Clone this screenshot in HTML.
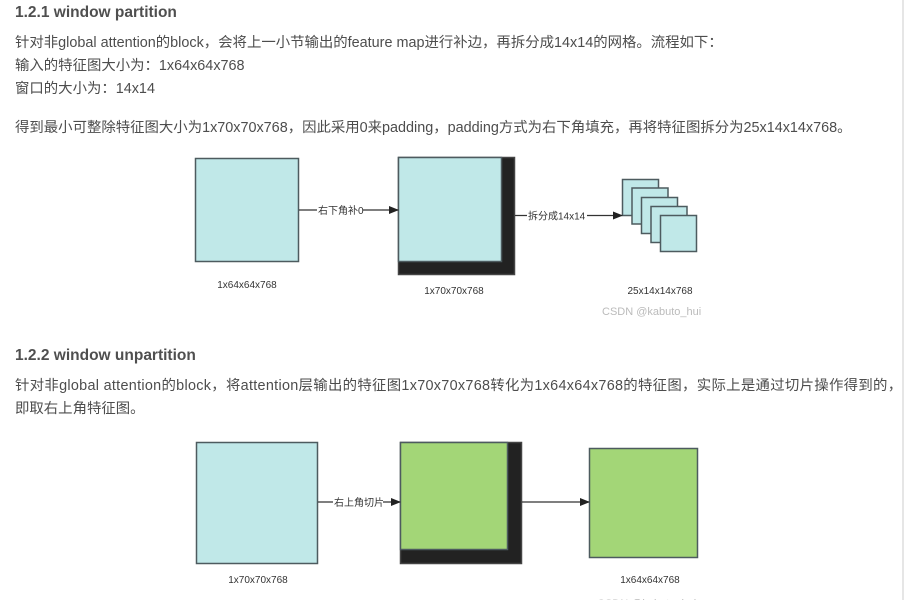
<!DOCTYPE html>
<html><head><meta charset="utf-8"><style>
body{margin:0;width:904px;height:600px;background:#fff;overflow:hidden;position:relative;font-family:"Liberation Sans","Noto Sans CJK SC",sans-serif;color:#4d4d4d}
.t{position:absolute;left:15px;font-size:14.4px;white-space:nowrap;line-height:18px}
.h{position:absolute;left:15px;font-size:15.5px;font-weight:bold;color:#4f4f4f;line-height:18px;white-space:nowrap}
.vl{position:absolute;left:902px;top:0;width:2px;height:600px;background:#e6e6e6}
</style></head><body>
<div class="h" style="top:4px">1.2.1 window partition</div>
<div class="t" style="top:34px">针对非global attention的block，会将上一小节输出的feature map进行补边，再拆分成14x14的网格。流程如下：</div>
<div class="t" style="top:57px">输入的特征图大小为：1x64x64x768</div>
<div class="t" style="top:80px">窗口的大小为：14x14</div>
<div class="t" style="top:119px">得到最小可整除特征图大小为1x70x70x768，因此采用0来padding，padding方式为右下角填充，再将特征图拆分为25x14x14x768。</div>
<div class="h" style="top:347px">1.2.2 window unpartition</div>
<div class="t" style="top:377px;letter-spacing:0.3px">针对非global attention的block，将attention层输出的特征图1x70x70x768转化为1x64x64x768的特征图，实际上是通过切片操作得到的，</div>
<div class="t" style="top:400px">即取右上角特征图。</div>
<div class="vl"></div>
<svg width="904" height="600" style="position:absolute;left:0;top:0" font-family="Liberation Sans, Noto Sans CJK SC, sans-serif">
<defs><marker id="a" markerWidth="10" markerHeight="8" refX="9" refY="4" orient="auto" markerUnits="userSpaceOnUse"><path d="M0,0 L10,4 L0,8 Z" fill="#222"/></marker></defs>
<g stroke="#4d5b5f" stroke-width="1.5">
<rect x="195.5" y="158.5" width="103" height="103" fill="#c0e8e8"/>
<rect x="398.5" y="157.5" width="116" height="117" fill="#222" stroke="#444"/>
<rect x="398.5" y="157.5" width="103" height="104" fill="#c0e8e8"/>
<rect x="622.5" y="179.5" width="36" height="36" fill="#c0e8e8"/>
<rect x="632" y="188" width="36" height="36" fill="#c0e8e8"/>
<rect x="641.5" y="197.5" width="36" height="36" fill="#c0e8e8"/>
<rect x="651" y="206.5" width="36" height="36" fill="#c0e8e8"/>
<rect x="660.5" y="215.5" width="36" height="36" fill="#c0e8e8"/>
<rect x="196.5" y="442.5" width="121" height="121" fill="#c0e8e8"/>
<rect x="400.5" y="442.5" width="121" height="121" fill="#222" stroke="#444"/>
<rect x="400.5" y="442.5" width="107" height="107" fill="#a3d677"/>
<rect x="589.5" y="448.5" width="108" height="109" fill="#a3d677"/>
</g>
<g stroke="#333" stroke-width="1.3" fill="none">
<line x1="299" y1="210" x2="398" y2="210" marker-end="url(#a)"/>
<line x1="515" y1="215.5" x2="622" y2="215.5" marker-end="url(#a)"/>
<line x1="318" y1="502" x2="400" y2="502" marker-end="url(#a)"/>
<line x1="522" y1="502" x2="589" y2="502" marker-end="url(#a)"/>
</g>
<g font-size="10" fill="#333">
<rect x="317" y="204" width="46" height="12" fill="#fff"/><text x="318" y="214">右下角补0</text>
<rect x="527" y="209" width="60" height="12" fill="#fff"/><text x="528" y="219.5">拆分成14x14</text>
<rect x="333" y="496" width="50" height="12" fill="#fff"/><text x="334" y="506">右上角切片</text>
<text x="247" y="288" text-anchor="middle">1x64x64x768</text>
<text x="454" y="294" text-anchor="middle">1x70x70x768</text>
<text x="660" y="294" text-anchor="middle">25x14x14x768</text>
<text x="258" y="583" text-anchor="middle">1x70x70x768</text>
<text x="650" y="583" text-anchor="middle">1x64x64x768</text>
</g>
<g font-size="11" fill="#bbb">
<text x="602" y="315">CSDN @kabuto_hui</text>
<text x="597" y="607">CSDN @kabuto_hui</text>
</g>
</svg>
</body></html>
